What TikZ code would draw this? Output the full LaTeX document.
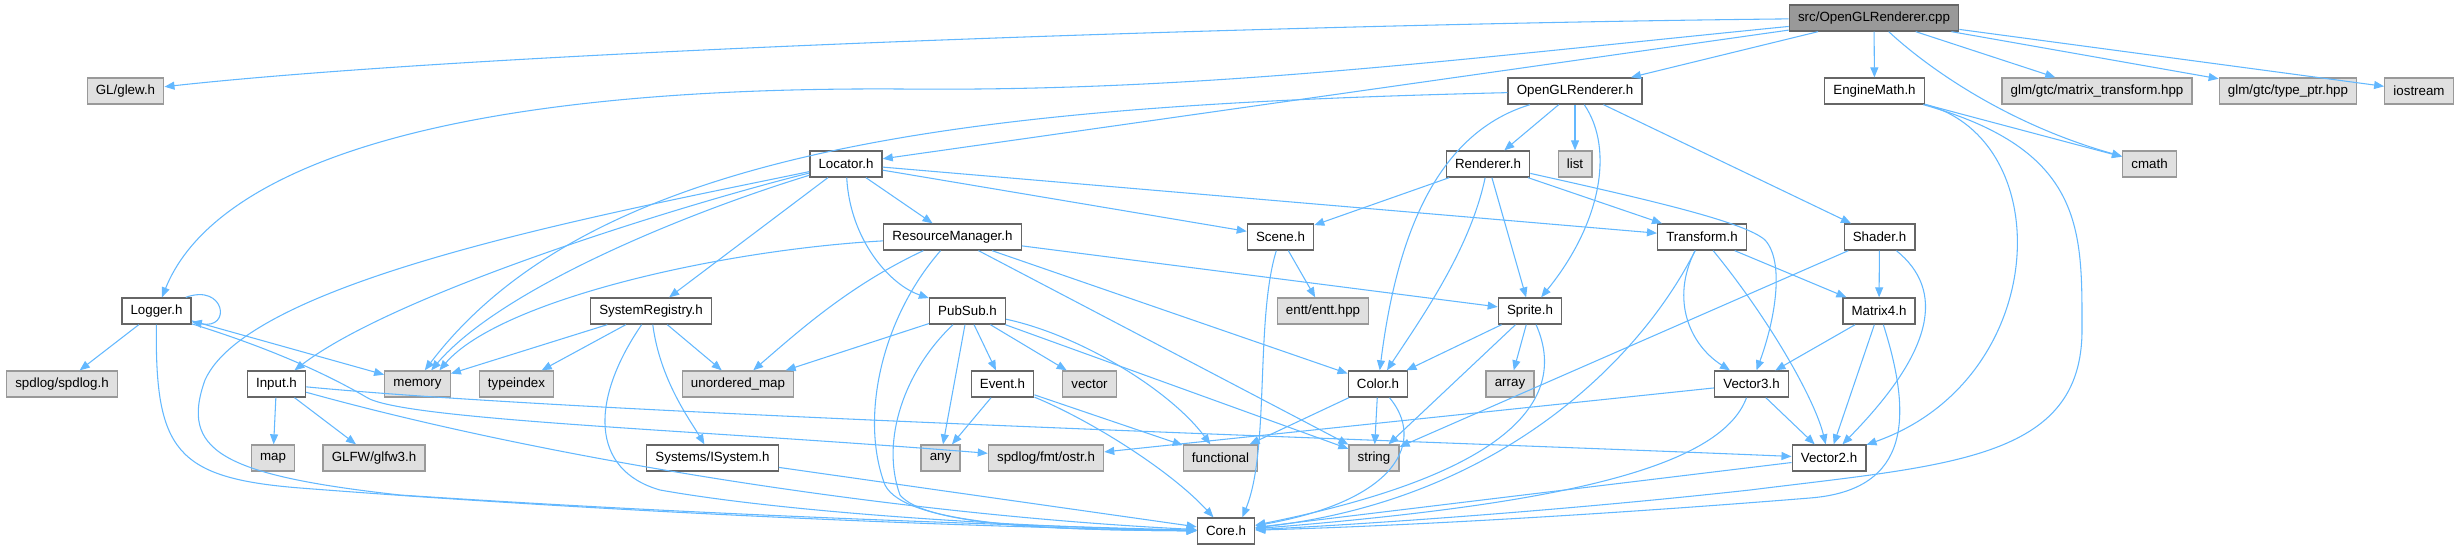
\documentclass[tikz,border=0pt]{standalone}
\usepackage{fontspec}
\setmainfont{Liberation Sans}
\usetikzlibrary{arrows.meta}
\definecolor{edgeblue}{HTML}{63B8FF}
\definecolor{boxline}{HTML}{666666}
\definecolor{extline}{HTML}{999999}
\definecolor{extfill}{HTML}{E0E0E0}
\definecolor{rootfill}{HTML}{999999}

\begin{document}
\begin{tikzpicture}[
    x=0.75pt, y=-0.75pt,
    font=\fontsize{10}{12}\selectfont,
    header/.style={rectangle, minimum height=19.5pt, inner xsep=6.5pt, inner ysep=0pt, text centered, line width=1pt, draw=boxline, fill=white},
    extern/.style={header, draw=extline, fill=extfill},
    rootfile/.style={header, fill=rootfill},
    arrow/.style={draw=edgeblue, line width=0.8pt, -{Triangle[length=7.5pt, width=6pt]}}
]
\useasboundingbox (0,0) rectangle (2459,549);

\node (cpp) [rootfile] at (1874,18) {src/OpenGLRenderer.cpp};

\node (glew) [extern] at (125.5,91) {GL/glew.h};
\node (oglr) [header] at (1575,91) {OpenGLRenderer.h};
\node (emath) [header] at (1874.5,91) {EngineMath.h};
\node (glmmt) [extern] at (2097,91) {glm/gtc/matrix\_transform.hpp};
\node (glmtp) [extern] at (2288,91) {glm/gtc/type\_ptr.hpp};
\node (iostream) [extern] at (2419,91) {iostream};

\node (locator) [header] at (846,164) {Locator.h};
\node (renderer) [header] at (1488,164) {Renderer.h};
\node (list) [extern] at (1575,164) {list};
\node (cmath) [extern] at (2149.5,164) {cmath};

\node (rm) [header] at (952.5,237) {ResourceManager.h};
\node (scene) [header] at (1280.5,237) {Scene.h};
\node (transform) [header] at (1702,237) {Transform.h};
\node (shader) [header] at (1879.5,237) {Shader.h};

\node (logger) [header] at (156.5,311) {Logger.h};
\node (syreg) [header] at (651,311) {SystemRegistry.h};
\node (pubsub) [header] at (967.5,311) {PubSub.h};
\node (entt) [extern] at (1323,311) {entt/entt.hpp};
\node (sprite) [header] at (1530,311) {Sprite.h};
\node (mat4) [header] at (1879,311) {Matrix4.h};

\node (spdlog) [extern] at (62,384) {spdlog/spdlog.h};
\node (input) [header] at (276.5,384) {Input.h};
\node (memory) [extern] at (417.5,384) {memory};
\node (typeindex) [extern] at (516.5,384) {typeindex};
\node (umap) [extern] at (738,384) {unordered\_map};
\node (event) [header] at (1002.5,384) {Event.h};
\node (vector) [extern] at (1089.5,384) {vector};
\node (color) [header] at (1378,384) {Color.h};
\node (array) [extern] at (1510,384) {array};
\node (vec3) [header] at (1751.5,384) {Vector3.h};

\node (map) [extern] at (273,458) {map};
\node (glfw) [extern] at (374,458) {GLFW/glfw3.h};
\node (isystem) [header] at (712.5,458) {Systems/ISystem.h};
\node (any) [extern] at (940.5,458) {any};
\node (ostr) [extern] at (1046,458) {spdlog/fmt/ostr.h};
\node (functional) [extern] at (1220.5,458) {functional};
\node (string) [extern] at (1374,458) {string};
\node (vec2) [header] at (1829,458) {Vector2.h};

\node (core) [header] at (1226,531) {Core.h};

\draw [arrow] (cpp) .. controls (1300,24) and (500,50) .. (glew);
\draw [arrow] (cpp) .. controls (1450,60) and (1200,92) .. (900,89) .. controls (380,86) and (205,190) .. (logger);
\draw [arrow] (cpp) -- (locator);
\draw [arrow] (cpp) -- (oglr);
\draw [arrow] (cpp) -- (emath);
\draw [arrow] (cpp) .. controls (1930,70) and (2010,125) .. (cmath);
\draw [arrow] (cpp) -- (glmmt);
\draw [arrow] (cpp) -- (glmtp);
\draw [arrow] (cpp) -- (iostream);

\draw [arrow] (oglr) -- (renderer);
\draw [arrow] (oglr) -- (list);
\draw [arrow] (oglr) .. controls (1000,105) and (600,140) .. (memory.62);
\draw [arrow] (oglr) .. controls (1430,135) and (1395,250) .. (color);
\draw [arrow] (oglr) .. controls (1615,150) and (1600,225) .. (sprite);
\draw [arrow] (oglr) -- (shader);

\draw [arrow] (emath) -- (cmath);
\draw [arrow] (emath) .. controls (2060,140) and (2050,380) .. (vec2);
\draw [arrow] (emath) .. controls (2085,150) and (2082,230) .. (2082,330) .. controls (2082,460) and (1950,465) .. (1750,490) .. controls (1550,512) and (1350,525) .. (core);

\draw [arrow] (locator) -- (rm);
\draw [arrow] (locator) -- (scene);
\draw [arrow] (locator) -- (transform);
\draw [arrow] (locator) .. controls (850,240) and (890,285) .. (pubsub);
\draw [arrow] (locator) -- (syreg);
\draw [arrow] (locator) .. controls (700,200) and (400,290) .. (input);
\draw [arrow] (locator) .. controls (680,215) and (500,290) .. (memory.45);
\draw [arrow] (locator) .. controls (600,215) and (250,280) .. (205,380) .. controls (180,450) and (220,475) .. (400,495) .. controls (700,515) and (1000,525) .. (core);

\draw [arrow] (rm) .. controls (720,250) and (500,300) .. (memory.32);
\draw [arrow] (rm) .. controls (850,285) and (800,330) .. (umap.42);
\draw [arrow] (rm) .. controls (880,320) and (860,420) .. (885,485) .. controls (905,525) and (1050,530) .. (core);
\draw [arrow] (rm) -- (string);
\draw [arrow] (rm) -- (color);
\draw [arrow] (rm) -- (sprite);

\draw [arrow] (renderer) -- (scene);
\draw [arrow] (renderer) .. controls (1470,250) and (1420,320) .. (color);
\draw [arrow] (renderer) -- (sprite);
\draw [arrow] (renderer) -- (transform);
\draw [arrow] (renderer) .. controls (1650,200) and (1745,222) .. (1765,240) .. controls (1785,262) and (1775,320) .. (vec3);

\draw [arrow] (scene) -- (entt);
\draw [arrow] (scene) .. controls (1255,320) and (1270,450) .. (core.40);

\draw [arrow] (transform) -- (mat4);
\draw [arrow] (transform) .. controls (1670,300) and (1690,345) .. (vec3);
\draw [arrow] (transform) .. controls (1770,320) and (1815,400) .. (vec2);
\draw [arrow] (transform) .. controls (1640,360) and (1500,500) .. (core);

\draw [arrow] (shader) -- (mat4);
\draw [arrow] (shader) .. controls (1945,290) and (1935,350) .. (vec2);
\draw [arrow] (shader) -- (string);

\draw [arrow] (logger.25) .. controls (225,283) and (232,330) .. (logger.-17);
\draw [arrow] (logger) -- (spdlog);
\draw [arrow] (logger) -- (memory);
\draw [arrow] (logger.-20) .. controls (260,345) and (320,370) .. (366,397) .. controls (400,420) and (700,430) .. (ostr);
\draw [arrow] (logger) .. controls (155,450) and (175,478) .. (300,488) .. controls (650,515) and (1000,528) .. (core);

\draw [arrow] (syreg) -- (memory);
\draw [arrow] (syreg) -- (typeindex);
\draw [arrow] (syreg) -- (umap);
\draw [arrow] (syreg) .. controls (660,380) and (690,420) .. (isystem);
\draw [arrow] (syreg) .. controls (590,400) and (590,470) .. (660,490) .. controls (800,515) and (1050,528) .. (core);

\draw [arrow] (isystem) -- (core);

\draw [arrow] (input) -- (map);
\draw [arrow] (input) -- (glfw);
\draw [arrow] (input) .. controls (600,415) and (1400,440) .. (vec2);
\draw [arrow] (input) .. controls (550,460) and (900,515) .. (core);

\draw [arrow] (pubsub) -- (umap.16);
\draw [arrow] (pubsub) .. controls (905,370) and (880,440) .. (900,495) .. controls (925,525) and (1050,530) .. (core);
\draw [arrow] (pubsub) -- (any);
\draw [arrow] (pubsub) -- (event);
\draw [arrow] (pubsub) -- (vector);
\draw [arrow] (pubsub) .. controls (1080,335) and (1170,390) .. (functional);
\draw [arrow] (pubsub) -- (string);

\draw [arrow] (event) -- (any);
\draw [arrow] (event) -- (functional);
\draw [arrow] (event) .. controls (1090,420) and (1170,470) .. (core);

\draw [arrow] (sprite) -- (color);
\draw [arrow] (sprite) -- (array);
\draw [arrow] (sprite) -- (string);
\draw [arrow] (sprite) .. controls (1565,390) and (1530,470) .. (core);

\draw [arrow] (color) -- (functional);
\draw [arrow] (color) -- (string);
\draw [arrow] (color) .. controls (1425,440) and (1400,500) .. (core);

\draw [arrow] (mat4) -- (vec3);
\draw [arrow] (mat4) -- (vec2);
\draw [arrow] (mat4) .. controls (1912,415) and (1912,490) .. (1810,498) .. controls (1600,515) and (1400,526) .. (core);

\draw [arrow] (vec3) -- (vec2);
\draw [arrow] (vec3) .. controls (1720,470) and (1550,505) .. (core);
\draw [arrow] (vec3) -- (ostr);

\draw [arrow] (vec2) -- (core);

\end{tikzpicture}
\end{document}
